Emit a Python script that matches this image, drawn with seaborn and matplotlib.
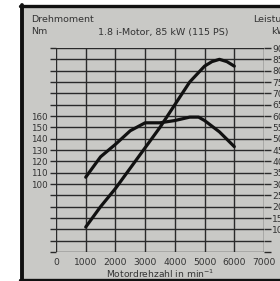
import matplotlib
matplotlib.use("Agg")
import matplotlib.pyplot as plt
import seaborn as sns
import pandas as pd
from matplotlib.patches import Rectangle
from matplotlib.lines import Line2D

# ---- data ----
rpm_torque = [1000, 1500, 2000, 2500, 3000, 3500, 4000, 4500, 4800, 5000, 5500, 6000]
torque_nm = [106, 124, 135, 147, 154, 154, 156, 159, 159, 156, 146, 133]
rpm_power = [1000, 1500, 2000, 2500, 3000, 3500, 4000, 4500, 5000, 5250, 5500, 5750, 6000]
power_kw = [11, 20, 28, 37, 46, 55, 65, 75, 82, 84, 85, 84, 82]
x_ticks = [0, 1000, 2000, 3000, 4000, 5000, 6000, 7000]
left_labels = [100, 110, 120, 130, 140, 150, 160]
right_labels = [10, 15, 20, 25, 30, 35, 40, 45, 50, 55, 60, 65, 70, 75, 80, 85, 90]

W, H = 280, 281
BG = "#c9c9c6"
INK = "#2a2a2a"
FONT = "DejaVu Sans"

sns.set_theme(style="white")
plt.rcParams["font.family"] = [FONT]

fig = plt.figure(figsize=(W / 100, H / 100), dpi=100)
fig.patch.set_facecolor("white")

def fx(px):
    return px / W

def fy(py):
    return 1 - py / H

# grey panel and thick black frame
fig.add_artist(Rectangle((fx(22), fy(280)), fx(280) - fx(22), fy(5) - fy(280),
                         transform=fig.transFigure, facecolor=BG, edgecolor="none", zorder=0))
for (x0, y0, x1, y1, lw) in [(21.5, 4.5, 21.5, 281, 2.8), (20, 5.5, 280, 5.5, 2.4), (20, 279.8, 280, 279.8, 2.4)]:
    fig.add_artist(Line2D([fx(x0), fx(x1)], [fy(y0), fy(y1)], transform=fig.transFigure,
                          color="#111111", lw=lw, zorder=1))

left, right, top, bottom = 56, 264, 48, 252
ax = fig.add_axes([fx(left), fy(bottom), fx(right) - fx(left), fy(top) - fy(bottom)])
ax.set_facecolor("none")
ax.set_xlim(0, 7000)
ax.set_ylim(40, 220)
for s in ax.spines.values():
    s.set_visible(False)

# grid
for xv in x_ticks:
    ax.axvline(xv, color=INK, lw=1.0, zorder=1)
ax.set_yticks(list(range(40, 221, 10)))
ax.set_yticklabels([str(v) if v in left_labels else "" for v in range(40, 221, 10)])
ax.grid(axis="y", color=INK, lw=1.0)
ax.grid(axis="x", visible=False)
ax.tick_params(axis="y", which="both", left=True, length=4.5, width=1.0, color=INK,
               direction="out", pad=1.2, labelsize=6.3, labelcolor="#333333")
ax.set_xticks(x_ticks)
ax.set_xticklabels([str(v) for v in x_ticks])
ax.tick_params(axis="x", length=0, pad=4.5, labelsize=6.6, labelcolor="#333333")
ax.set_xlabel("Motordrehzahl in min$^{-1}$", fontsize=6.6, color="#333333", labelpad=0.5)
ax.set_ylabel("")

ax2 = ax.twinx()
ax2.set_ylim(0, 90)
for s in ax2.spines.values():
    s.set_visible(False)
ax2.set_yticks(list(range(0, 91, 5)))
ax2.set_yticklabels([str(v) if v in right_labels else "" for v in range(0, 91, 5)])
ax2.tick_params(axis="y", right=True, length=5.0, width=1.0, color=INK, direction="out",
                pad=1.0, labelsize=6.6, labelcolor="#333333")

df_t = pd.DataFrame({"rpm": rpm_torque, "torque": torque_nm})
df_p = pd.DataFrame({"rpm": rpm_power, "power": power_kw})
sns.lineplot(data=df_t, x="rpm", y="torque", ax=ax, color="#111111", lw=2.3, zorder=5)
sns.lineplot(data=df_p, x="rpm", y="power", ax=ax2, color="#111111", lw=2.3, zorder=5)
ax.set_xlabel("Motordrehzahl in min$^{-1}$", fontsize=6.6, color="#333333", labelpad=0.5)
ax.set_ylabel("")
ax2.set_ylabel("")
ax.set_xlim(0, 7000)
ax.set_ylim(40, 220)
ax2.set_ylim(0, 90)

# header texts
fig.text(fx(31), fy(20), "Drehmoment", fontsize=6.8, color="#333333", va="center", ha="left")
fig.text(fx(31), fy(32), "Nm", fontsize=6.8, color="#333333", va="center", ha="left")
fig.text(fx(98), fy(32), "1.8 i-Motor, 85 kW (115 PS)", fontsize=6.8, color="#333333", va="center", ha="left")
fig.text(fx(253), fy(20), "Leistung", fontsize=6.8, color="#333333", va="center", ha="left")
fig.text(fx(271), fy(31), "kW", fontsize=6.8, color="#333333", va="center", ha="left")

fig.savefig("out.png", dpi=100)
